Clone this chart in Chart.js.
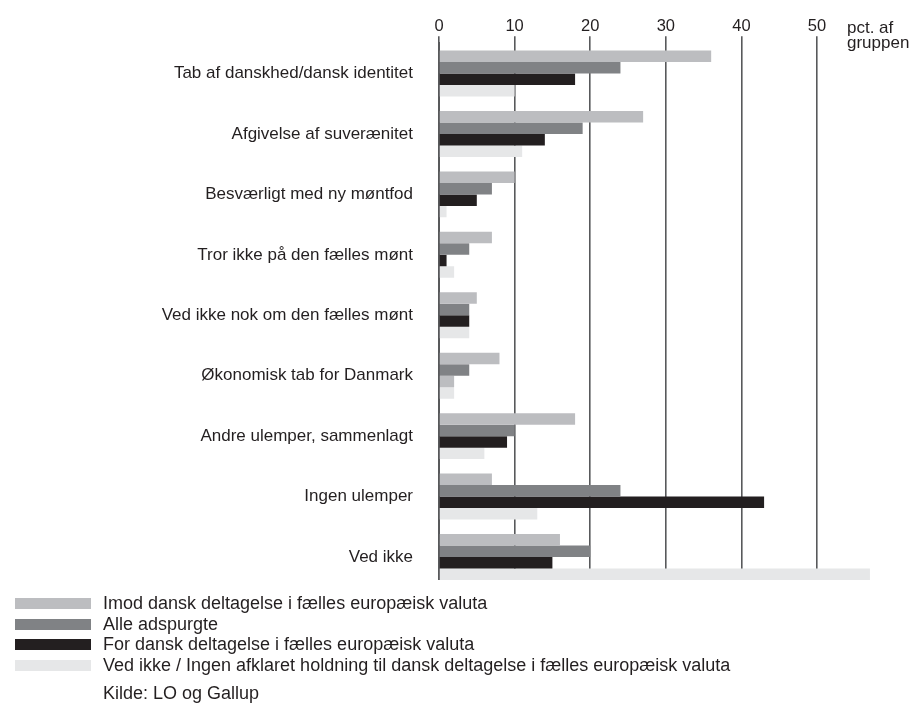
<!DOCTYPE html>
<html>
<head>
<meta charset="utf-8">
<script src="https://cdn.jsdelivr.net/npm/chart.js@4.4.1/dist/chart.umd.min.js"></script>
<style>
  html, body { margin: 0; padding: 0; background: #ffffff; }
  #wrap { position: relative; width: 917px; height: 704px; overflow: hidden; }
  #chart { position: absolute; left: 0; top: 0; }
  #legend { position: absolute; left: 0; top: 0; width: 917px; height: 704px; pointer-events: none;
            font-family: "Liberation Sans", Arial, sans-serif; color: #231f20; }
  .row { position: absolute; left: 15px; height: 20px; display: flex; align-items: center; font-size: 18px; white-space: nowrap; }
  .sw { width: 76px; height: 11px; margin-right: 12px; flex: none; }
  .src { position: absolute; left: 103px; font-size: 18px; white-space: nowrap; }
</style>
</head>
<body>
<div id="wrap">
  <canvas id="chart" width="917" height="704"></canvas>
  <div id="legend"></div>
</div>
<script>
// ---- Data ----
const categories = [
  "Tab af danskhed/dansk identitet",
  "Afgivelse af suverænitet",
  "Besværligt med ny møntfod",
  "Tror ikke på den fælles mønt",
  "Ved ikke nok om den fælles mønt",
  "Økonomisk tab for Danmark",
  "Andre ulemper, sammenlagt",
  "Ingen ulemper",
  "Ved ikke"
];
const seriesNames = [
  "Imod dansk deltagelse i fælles europæisk valuta",
  "Alle adspurgte",
  "For dansk deltagelse i fælles europæisk valuta",
  "Ved ikke / Ingen afklaret holdning til dansk deltagelse i fælles europæisk valuta"
];
const imodValues    = [36, 27, 10, 7, 5, 8, 18,  7, 16];
const alleValues    = [24, 19,  7, 4, 4, 4, 10, 24, 20];
const forValues     = [18, 14,  5, 1, 4, 2,  9, 43, 15];
const vedIkkeValues = [10, 11,  1, 2, 4, 2,  6, 13, 57];
const tickValues = [0, 10, 20, 30, 40, 50];
const unitLabel = ["pct. af", "gruppen"];
const sourceText = "Kilde: LO og Gallup";

// ---- Styles ----
const colImod = "#bcbdc0";
const colAlle = "#808285";
const colFor  = "#231f20";
const colVed  = "#e6e7e8";
const textCol = "#231f20";
const gridCol = "#58595b";
const fontFamily = '"Liberation Sans", Arial, sans-serif';

// In the reference, the "For" bar of "Økonomisk tab for Danmark" is printed in the light grey tone
const forColorFn = (ctx) => (categories[ctx.dataIndex] === "Økonomisk tab for Danmark" ? colImod : colFor);

const unitPlugin = {
  id: "unitLabel",
  afterDraw(chart) {
    const c = chart.ctx;
    c.save();
    // grid lines stop at the bottom of the last bar group, as in the reference
    const meta = chart.getDatasetMeta(chart.data.datasets.length - 1);
    const last = meta.data[meta.data.length - 1];
    if (last) {
      const barBottom = last.y + last.height / 2;
      c.fillStyle = "#ffffff";
      c.fillRect(chart.chartArea.left - 3, barBottom, chart.chartArea.right - chart.chartArea.left + 6, chart.chartArea.bottom - barBottom + 2);
    }
    c.fillStyle = textCol;
    c.font = "17px " + fontFamily;
    c.textAlign = "left";
    c.textBaseline = "alphabetic";
    c.fillText(unitLabel[0], 847, 33);
    c.fillText(unitLabel[1], 847, 48);
    c.restore();
  }
};

const ctx = document.getElementById("chart").getContext("2d");
new Chart(ctx, {
  type: "bar",
  data: {
    labels: categories,
    datasets: [
      { label: seriesNames[0], data: imodValues,    backgroundColor: colImod },
      { label: seriesNames[1], data: alleValues,    backgroundColor: colAlle },
      { label: seriesNames[2], data: forValues,     backgroundColor: forColorFn },
      { label: seriesNames[3], data: vedIkkeValues, backgroundColor: colVed }
    ]
  },
  options: {
    indexAxis: "y",
    responsive: false,
    animation: false,
    maintainAspectRatio: false,
    layout: { padding: { top: 16.5, right: 39.5, bottom: 116.75, left: 0 } },
    datasets: { bar: { barPercentage: 1.0, categoryPercentage: 0.76, borderWidth: 0 } },
    plugins: { legend: { display: false }, tooltip: { enabled: false } },
    scales: {
      x: {
        position: "top",
        min: 0,
        max: 58,
        afterBuildTicks(scale) {
          scale.ticks = tickValues.map(v => ({ value: v }));
        },
        ticks: {
          color: textCol,
          padding: 0,
          font: { family: fontFamily, size: 16.5 },
          maxRotation: 0
        },
        grid: {
          color: gridCol,
          lineWidth: 1.6,
          drawTicks: true,
          tickLength: 7,
          tickColor: gridCol
        },
        border: { display: false }
      },
      y: {
        grid: { display: false },
        border: { display: true, color: gridCol, width: 2 },
        ticks: {
          color: textCol,
          padding: 18,
          font: { family: fontFamily, size: 17 }
        },
        afterFit(scale) { scale.width = 439; }
      }
    }
  },
  plugins: [unitPlugin]
});

// ---- Legend (HTML, one item per line) ----
const legendColors = [colImod, colAlle, colFor, colVed];
const legend = document.getElementById("legend");
const rowCenters = [603.5, 624.2, 644.9, 665.6];
seriesNames.forEach((name, i) => {
  const row = document.createElement("div");
  row.className = "row";
  row.style.top = (rowCenters[i] - 10) + "px";
  const sw = document.createElement("div");
  sw.className = "sw";
  sw.style.background = legendColors[i];
  const tx = document.createElement("span");
  tx.textContent = name;
  row.appendChild(sw);
  row.appendChild(tx);
  legend.appendChild(row);
});
const src = document.createElement("div");
src.className = "src";
src.style.top = "683px";
src.textContent = sourceText;
legend.appendChild(src);
</script>
</body>
</html>
